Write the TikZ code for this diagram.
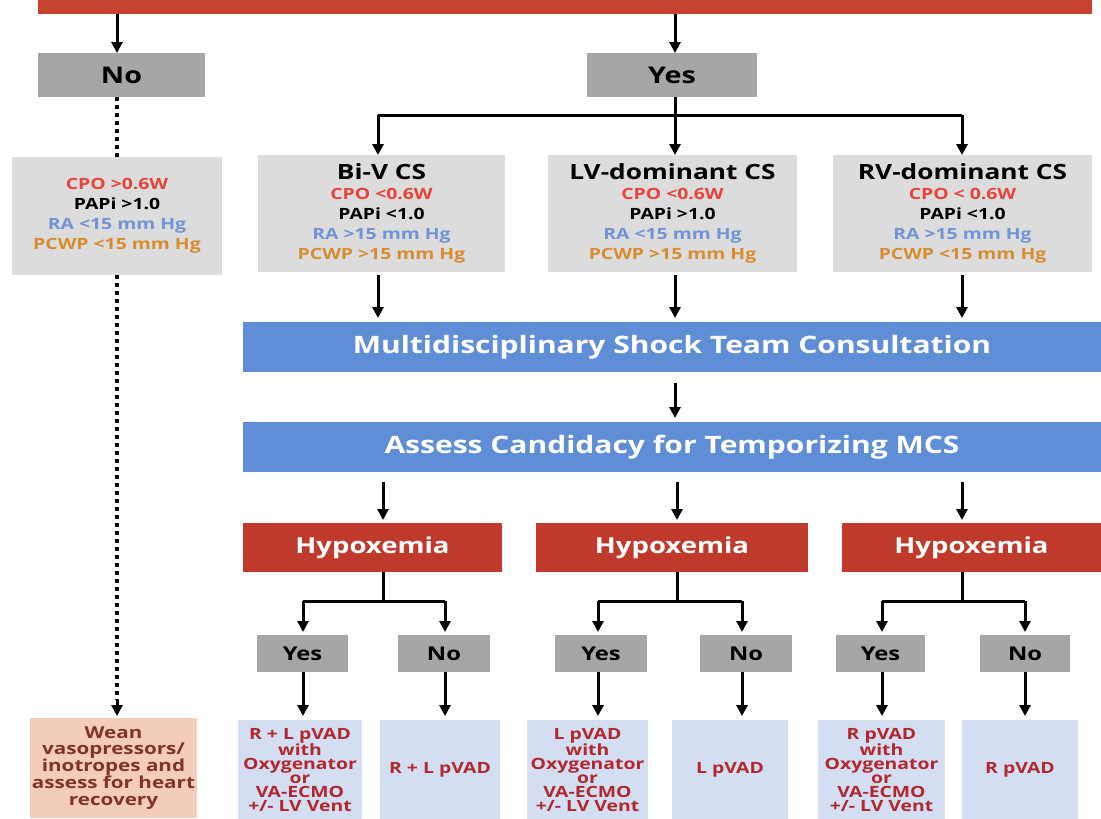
\documentclass[tikz,border=0pt]{standalone}
\usepackage{fontspec}
\setmainfont{Open Sans}[FakeStretch=1.25]
\usetikzlibrary{arrows.meta}
\definecolor{topred}{RGB}{200,66,48}
\definecolor{hypred}{RGB}{192,58,44}
\definecolor{gbox}{RGB}{166,166,166}
\definecolor{lgbox}{RGB}{220,220,220}
\definecolor{bluebar}{RGB}{96,142,214}
\definecolor{lbbox}{RGB}{212,222,242}
\definecolor{salmon}{RGB}{243,205,186}
\definecolor{tred}{RGB}{230,68,58}
\definecolor{tblue}{RGB}{112,148,214}
\definecolor{torange}{RGB}{216,140,48}
\definecolor{tmaroon}{RGB}{176,40,44}
\definecolor{tbrown}{RGB}{128,52,40}
\tikzset{
  box/.style={rectangle, inner sep=0pt, align=center, font=\bfseries},
  yn/.style={box, fill=gbox, minimum height=44pt, font=\bfseries\fontsize{23}{25}\selectfont},
  ynsmall/.style={box, fill=gbox, minimum height=37pt, font=\bfseries\fontsize{19}{21}\selectfont},
  param/.style={box, fill=lgbox, font=\bfseries\fontsize{15.5}{20}\selectfont},
  bar/.style={box, fill=bluebar, text=white, minimum width=858pt, minimum height=50pt, font=\bfseries\fontsize{24}{26}\selectfont},
  hyp/.style={box, fill=hypred, text=white, minimum height=49pt, font=\bfseries\fontsize{22}{24}\selectfont},
  res/.style={box, fill=lbbox, text=tmaroon, minimum height=100pt, font=\bfseries\fontsize{15.5}{14}\selectfont},
  arr/.style={line width=3pt, -{Triangle[width=11pt,length=11pt]}},
  ln/.style={line width=3pt},
  dots/.style={line width=3.5pt, dash pattern=on 4pt off 4pt}
}
\begin{document}
\begin{tikzpicture}[x=1pt,y=-1pt]
\useasboundingbox (0,0) rectangle (1101,819);
\fill[white] (0,0) rectangle (1101,819);
% top bar
\node[box, fill=topred, minimum width=1054pt, minimum height=24pt] (top) at (565,2) {};
% No / Yes
\node[yn, minimum width=167pt] (no) at (121.5,75) {No};
\node[yn, minimum width=170pt] (yes) at (672,75) {Yes};
\draw[arr] (117,14) -- (117,53);
\draw[arr] (675,14) -- (675,53);
% parameter boxes
\node[param, minimum width=210pt, minimum height=118pt] (pl) at (117,216) {\textcolor{tred}{CPO >0.6W}\\PAPi >1.0\\\textcolor{tblue}{RA <15 mm Hg}\\\textcolor{torange}{PCWP <15 mm Hg}};
\node[param, minimum width=247pt, minimum height=117pt] (bi) at (381.5,213.5) {{\bfseries\fontsize{21}{22}\selectfont Bi-V CS}\\\textcolor{tred}{CPO <0.6W}\\PAPi <1.0\\\textcolor{tblue}{RA >15 mm Hg}\\\textcolor{torange}{PCWP >15 mm Hg}};
\node[param, minimum width=249pt, minimum height=117pt] (lv) at (672.5,213.5) {{\bfseries\fontsize{21}{22}\selectfont LV-dominant CS}\\\textcolor{tred}{CPO <0.6W}\\PAPi >1.0\\\textcolor{tblue}{RA <15 mm Hg}\\\textcolor{torange}{PCWP >15 mm Hg}};
\node[param, minimum width=259pt, minimum height=117pt] (rv) at (962.5,213.5) {{\bfseries\fontsize{21}{22}\selectfont RV-dominant CS}\\\textcolor{tred}{CPO < 0.6W}\\PAPi <1.0\\\textcolor{tblue}{RA >15 mm Hg}\\\textcolor{torange}{PCWP <15 mm Hg}};
% yes split
\coordinate (ys) at (675,115);
\draw[ln] (yes.south -| ys) -- (ys);
\draw[ln] (378,115) -- (962,115);
\draw[arr] (378,115) -- (378,155);
\draw[arr] (ys) -- (675,155);
\draw[arr] (962,115) -- (962,155);
% bars
\node[bar] (mst) at (672,347) {Multidisciplinary Shock Team Consultation};
\node[bar] (ass) at (672,447) {Assess Candidacy for Temporizing MCS};
\draw[arr] (378,275) -- (378,318);
\draw[arr] (675,275) -- (675,318);
\draw[arr] (962,275) -- (962,318);
\draw[arr] (675,383) -- (675,418);
% hypoxemia
\node[hyp, minimum width=259pt] (h1) at (372.5,547.5) {Hypoxemia};
\node[hyp, minimum width=272pt] (h2) at (672,547.5) {Hypoxemia};
\node[hyp, minimum width=259pt] (h3) at (971.5,547.5) {Hypoxemia};
\draw[arr] (383,482) -- (383,520);
\draw[arr] (677,482) -- (677,520);
\draw[arr] (962,482) -- (962,520);
% yes/no small
\node[ynsmall, minimum width=91pt] (y1) at (302.5,653.5) {Yes};
\node[ynsmall, minimum width=92pt] (n1) at (444,653.5) {No};
\node[ynsmall, minimum width=92pt] (y2) at (601,653.5) {Yes};
\node[ynsmall, minimum width=92pt] (n2) at (746,653.5) {No};
\node[ynsmall, minimum width=89pt] (y3) at (880.5,653.5) {Yes};
\node[ynsmall, minimum width=90pt] (n3) at (1025,653.5) {No};
\draw[ln] (383,572) -- (383,601);
\draw[ln] (303,601) -- (445,601);
\draw[arr] (303,601) -- (303,632);
\draw[arr] (445,601) -- (445,632);
\draw[ln] (677,572) -- (677,601);
\draw[ln] (598,601) -- (742,601);
\draw[arr] (598,601) -- (598,632);
\draw[arr] (742,601) -- (742,632);
\draw[ln] (962,572) -- (962,601);
\draw[ln] (882,601) -- (1025,601);
\draw[arr] (882,601) -- (882,632);
\draw[arr] (1025,601) -- (1025,632);
% results
\node[res, fill=salmon, text=tbrown, minimum width=167pt, font=\bfseries\fontsize{16.5}{16.5}\selectfont] (wean) at (113.5,768) {Wean\\vasopressors/\\inotropes and\\assess for heart\\recovery};
\node[res, minimum width=124pt] (r1) at (300,770) {R + L pVAD\\with\\Oxygenator\\or\\VA-ECMO\\+/- LV Vent};
\node[res, minimum width=120pt] (r2) at (440,770) {R + L pVAD};
\node[res, minimum width=121pt] (r3) at (587.5,770) {L pVAD\\with\\Oxygenator\\or\\VA-ECMO\\+/- LV Vent};
\node[res, minimum width=116pt] (r4) at (730,770) {L pVAD};
\node[res, minimum width=127pt] (r5) at (881.5,770) {R pVAD\\with\\Oxygenator\\or\\VA-ECMO\\+/- LV Vent};
\node[res, minimum width=116pt] (r6) at (1020,770) {R pVAD};
\draw[arr] (303,672) -- (303,716);
\draw[arr] (445,672) -- (445,716);
\draw[arr] (598,672) -- (598,716);
\draw[arr] (742,672) -- (742,716);
\draw[arr] (882,672) -- (882,716);
\draw[arr] (1025,672) -- (1025,716);
% dotted path
\draw[dots] (117,97) -- (117,157);
\draw[dots] (117,275) -- (117,700);
\draw[line width=3pt, -{Triangle[width=11pt,length=11pt]}] (117,700) -- (117,716);
\end{tikzpicture}
\end{document}
